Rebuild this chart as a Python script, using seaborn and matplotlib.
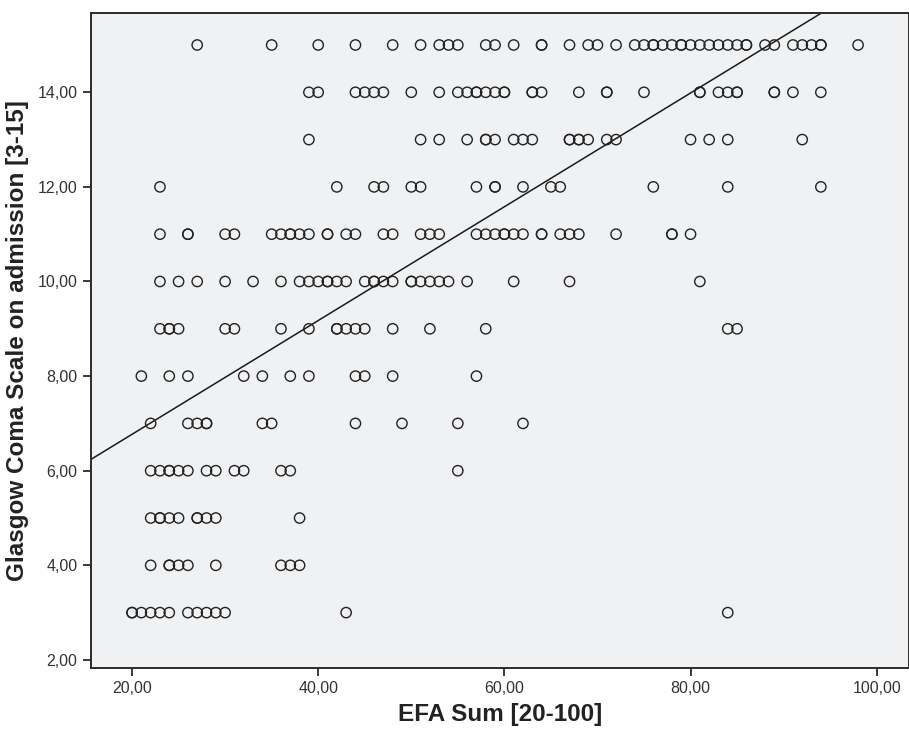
import numpy as np
import pandas as pd
import matplotlib
matplotlib.use("Agg")
import matplotlib.pyplot as plt
import seaborn as sns
from matplotlib.ticker import FuncFormatter

# EFA Sum values observed at each GCS level (duplicates = overlapping points)
gcs_15 = [27, 35, 40, 44, 48, 51, 53, 54, 55, 58, 59, 61, 64, 64, 67, 69, 70, 72, 74, 75, 76, 76,
          77, 78, 79, 79, 80, 81, 82, 83, 84, 85, 86, 86, 88, 89, 91, 92, 93, 94, 94, 98]
gcs_14 = [39, 40, 44, 45, 46, 47, 50, 53, 55, 56, 57, 57, 58, 59, 60, 60, 63, 63, 64, 68, 71, 71,
          75, 81, 81, 83, 84, 85, 85, 89, 89, 91, 94]
gcs_13 = [39, 51, 53, 56, 58, 58, 59, 61, 62, 63, 67, 67, 68, 68, 69, 71, 72, 80, 82, 84, 92]
gcs_12 = [23, 42, 46, 47, 50, 51, 57, 59, 59, 62, 65, 66, 76, 84, 94]
gcs_11 = [23, 26, 26, 30, 31, 35, 36, 37, 37, 38, 39, 41, 41, 43, 44, 47, 48, 51, 52, 53, 57, 58,
          59, 60, 60, 61, 62, 64, 64, 66, 67, 68, 72, 78, 78, 80]
gcs_10 = [23, 25, 27, 30, 33, 36, 38, 39, 40, 41, 41, 42, 43, 45, 46, 46, 47, 48, 50, 50, 51, 52,
          53, 54, 56, 61, 67, 81]
gcs_9 = [23, 24, 24, 25, 30, 31, 36, 39, 42, 42, 43, 44, 45, 48, 52, 58, 84, 85]
gcs_8 = [21, 24, 26, 32, 34, 37, 39, 44, 45, 48, 57]
gcs_7 = [22, 26, 27, 28, 28, 34, 35, 44, 49, 55, 62]
gcs_6 = [22, 23, 24, 24, 25, 26, 28, 29, 31, 32, 36, 37, 55]
gcs_5 = [22, 23, 23, 24, 25, 27, 27, 28, 29, 38]
gcs_4 = [22, 24, 24, 25, 26, 29, 36, 37, 38]
gcs_3 = [20, 20, 21, 22, 23, 24, 26, 27, 28, 29, 30, 43, 84]

levels = {15: gcs_15, 14: gcs_14, 13: gcs_13, 12: gcs_12, 11: gcs_11, 10: gcs_10, 9: gcs_9,
          8: gcs_8, 7: gcs_7, 6: gcs_6, 5: gcs_5, 4: gcs_4, 3: gcs_3}

efa, gcs = [], []
for g, xs in levels.items():
    efa += xs
    gcs += [g] * len(xs)
df = pd.DataFrame({"EFA": efa, "GCS": gcs})

x_ticks = [20, 40, 60, 80, 100]
y_ticks = [2, 4, 6, 8, 10, 12, 14]

sns.set_style("white", {"axes.facecolor": "#F0F1F3", "axes.edgecolor": "#2b2b2b"})
plt.rcParams["font.family"] = ["Liberation Sans", "DejaVu Sans"]

fig = plt.figure(figsize=(9.09, 7.38), dpi=100)
ax = fig.add_axes([0.0998, 0.0949, 0.9002, 0.8871])
ax.set_xlim(15.56, 103.47)
ax.set_ylim(1.83, 15.67)

sns.scatterplot(data=df, x="EFA", y="GCS", ax=ax, marker="o", s=55,
                facecolor="none", edgecolor="#222222", linewidth=1.0, zorder=3)
sns.regplot(data=df, x="EFA", y="GCS", ax=ax, scatter=False, ci=None, truncate=False,
            line_kws={"color": "#1a1a1a", "linewidth": 1.1, "zorder": 2})
ax.set_xlim(15.56, 103.47)
ax.set_ylim(1.83, 15.67)

ax.set_xticks(x_ticks)
ax.set_yticks(y_ticks)
fmt = FuncFormatter(lambda v, p: f"{v:.2f}".replace(".", ","))
ax.xaxis.set_major_formatter(fmt)
ax.yaxis.set_major_formatter(fmt)
ax.tick_params(axis="both", direction="out", length=6, width=1.3, color="#2b2b2b",
               labelsize=11.5, labelcolor="#333333", bottom=True, left=True)
for s in ax.spines.values():
    s.set_linewidth(1.4)

ax.set_xlabel("EFA Sum [20-100]", fontsize=17.5, fontweight="bold", color="#222222", labelpad=5)
ax.set_ylabel("Glasgow Coma Scale on admission [3-15]", fontsize=17.5, fontweight="bold",
              color="#222222", labelpad=6)

fig.savefig("out.png", dpi=100)
